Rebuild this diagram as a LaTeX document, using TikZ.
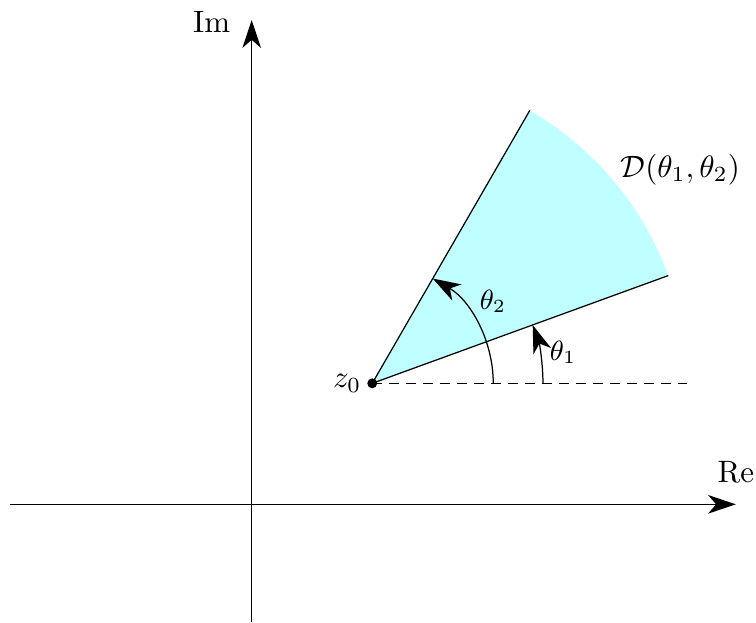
\documentclass[tikz,border=0pt]{standalone}
\usepackage{amsmath,amssymb}
\usepackage{tikz}
\usetikzlibrary{arrows.meta,calc}
\definecolor{sectorcyan}{RGB}{191,255,255}

\begin{document}
\begin{tikzpicture}[>={Stealth[length=9pt,width=6pt,inset=2.6pt]},
  lab/.style={anchor=base, inner sep=0pt}]

%% ── Scale: 1cm = 88px ────────────────────────────────────────────────────────
% Hardcoded values (cm):
% z0=(1.37,1.375), R=3.58, sector 20..60 deg
% rTwo=1.375 (theta_2 arc), rOne=1.94 (theta_1 arc)
\useasboundingbox (-2.860,-1.338) rectangle (5.731,5.731);

\coordinate (O)  at (0,0);
\coordinate (z0) at (1.37,1.375);
\coordinate (A)  at ($(z0)+(20:3.58)$);
\coordinate (B)  at ($(z0)+(60:3.58)$);

%% ── Sector D(theta_1,theta_2) ───────────────────────────────────────────────
\fill[sectorcyan] (z0) -- (A) arc[start angle=20, end angle=60, radius=3.58] -- cycle;
\draw (A) -- (z0) -- (B);
\node[lab, anchor=base west] (dlab) at (4.185,3.716) {$\mathcal{D}(\theta_1,\theta_2)$};

%% ── Axes ─────────────────────────────────────────────────────────────────────
\draw[->] (-2.752,0) -- (5.503,0);
\draw[->] (0,-1.338) -- (0,5.503);
\node[lab] (re) at (5.503,0.245) {Re};
\node[lab] (im) at (-0.456,5.367) {Im};

%% ── Reference direction ──────────────────────────────────────────────────────
\draw[dash pattern=on 3.2pt off 2.3pt] (z0) -- ++(3.58,0);

%% ── Angles ───────────────────────────────────────────────────────────────────
\draw[->] ($(z0)+(1.375,0)$) arc[start angle=0, end angle=60, radius=1.375];
\draw[->] ($(z0)+(1.94,0)$) arc[start angle=0, end angle=20, radius=1.94];
\node[lab, font=\small] (ttwo) at (2.742,2.216) {$\theta_2$};
\node[lab, font=\small] (tone) at (3.538,1.640) {$\theta_1$};

%% ── Base point ───────────────────────────────────────────────────────────────
\fill (z0) circle (1.6pt);
\node[left] (zlab) at (z0) {$z_0$};

\end{tikzpicture}
\end{document}
